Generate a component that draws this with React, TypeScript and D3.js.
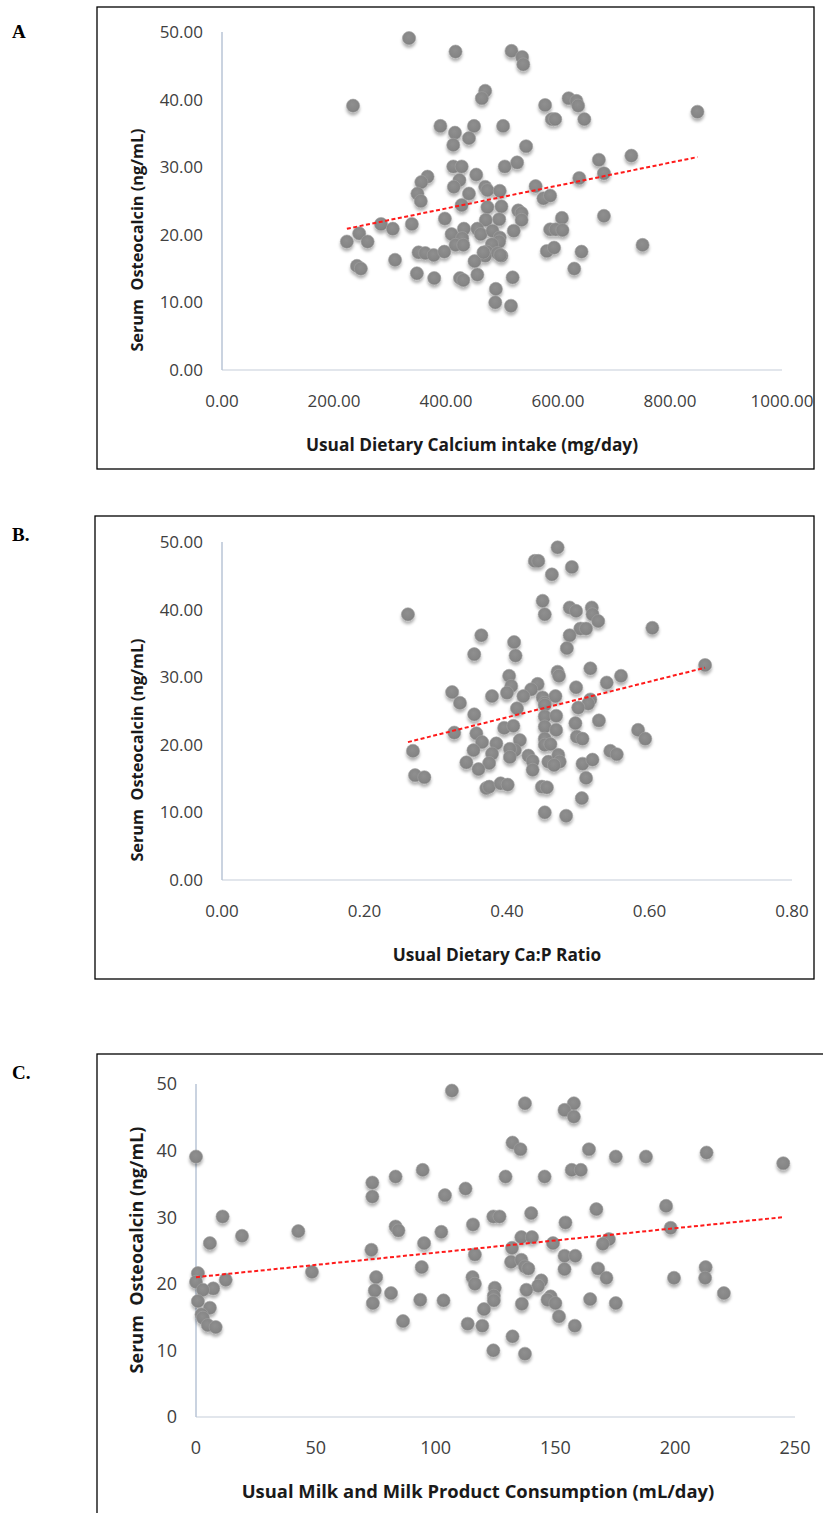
import React from 'react'
import * as d3 from 'd3'

// ---- panel A: calcium intake (mg/day) vs osteocalcin (ng/mL)
const calciumX = [334,417,517,536,538,234,470,464,390,416,450,502,441,413,543,413,428,505,527,367,356,454,424,414,470,474,496,349,441,355,428,474,499,529,535,398,577,619,633,636,589,595,647,849,673,731,638,682,560,574,586,607,682,535,471,495,284,339,305,245,223,260,410,432,456,462,483,496,521,429,417,431,495,482,473,470,492,499,351,363,378,397,451,309,241,248,348,379,425,431,456,519,489,488,516,586,596,608,580,593,642,751,629,467,497]
const calciumY = [49.1,47.1,47.2,46.3,45.2,39.1,41.3,40.2,36.1,35.1,36.1,36.1,34.3,33.3,33.1,30.1,30.1,30.1,30.7,28.6,27.8,28.9,28.1,27.1,27.1,26.6,26.5,26.1,26.1,25.0,24.4,24.1,24.2,23.6,23.2,22.4,39.2,40.2,39.8,39.1,37.1,37.1,37.1,38.2,31.1,31.7,28.4,29.1,27.2,25.4,25.8,22.5,22.8,22.2,22.2,22.3,21.6,21.6,20.9,20.2,19.0,19.0,20.1,20.9,20.9,20.1,20.6,19.6,20.6,19.5,18.5,18.5,19.0,18.6,17.5,16.9,17.3,16.9,17.4,17.3,17.0,17.5,16.1,16.3,15.4,15.0,14.3,13.6,13.6,13.3,14.1,13.7,12.0,10.0,9.5,20.8,20.8,20.7,17.6,18.1,17.5,18.5,15.0,17.4,17.0]
const calciumTrend = [[223, 20.9], [849, 31.5]]
const calciumTicks = [0, 200, 400, 600, 800, 1000]

// ---- panel B: Ca:P ratio
const ratioX = [0.439,0.444,0.463,0.450,0.453,0.261,0.364,0.410,0.354,0.412,0.403,0.406,0.400,0.443,0.434,0.423,0.379,0.323,0.334,0.450,0.453,0.414,0.471,0.491,0.488,0.497,0.519,0.520,0.528,0.503,0.511,0.488,0.484,0.604,0.678,0.471,0.473,0.517,0.560,0.540,0.497,0.468,0.517,0.514,0.268,0.271,0.284,0.354,0.326,0.357,0.365,0.353,0.385,0.396,0.409,0.418,0.411,0.404,0.379,0.375,0.343,0.360,0.404,0.430,0.436,0.436,0.371,0.375,0.391,0.401,0.453,0.453,0.453,0.453,0.453,0.458,0.449,0.456,0.453,0.500,0.529,0.469,0.496,0.469,0.498,0.506,0.461,0.472,0.474,0.466,0.506,0.520,0.511,0.545,0.554,0.584,0.594,0.505,0.483]
const ratioY = [47.2,47.2,45.2,41.3,39.3,39.3,36.2,35.2,33.4,33.2,30.2,28.7,27.7,29.0,28.2,27.2,27.2,27.8,26.2,27.0,26.2,25.4,49.2,46.3,40.3,39.8,40.3,39.3,38.3,37.2,37.2,36.2,34.3,37.3,31.8,30.8,30.2,31.3,30.2,29.2,28.5,27.2,26.7,26.1,19.1,15.5,15.2,24.5,21.8,21.7,20.4,19.2,20.2,22.5,22.8,20.7,19.2,19.4,18.7,17.3,17.4,16.4,18.2,18.4,17.6,16.3,13.6,13.8,14.3,14.1,25.9,24.2,22.7,20.9,20.0,17.5,13.8,13.7,10.0,25.5,23.6,24.3,23.2,22.2,21.2,20.9,20.1,18.5,17.5,17.0,17.2,17.8,15.1,19.1,18.6,22.2,20.9,12.1,9.5]
const ratioTrend = [[0.261, 20.4], [0.678, 31.4]]
const ratioTicks = [0, 0.2, 0.4, 0.6, 0.8]

// ---- panel C: milk and milk products (mL/day)
const milkX = [106.8,137.3,157.7,153.8,157.7,132.1,135.4,164.0,213.1,0,175.2,187.8,245.1,94.6,156.8,160.6,73.6,83.3,129.2,145.5,73.6,103.9,112.5,196.2,139.9,167.1,11.1,124.1,126.7,115.6,154.2,83.3,84.5,42.7,19.2,102.4,135.8,140.2,198.1,172.3,5.8,95.2,149.0,169.8,131.9,73.2,116.4,153.8,158.3,131.5,135.8,137.3,138.7,94.2,153.8,167.8,212.7,0.8,48.4,75.2,115.4,171.3,199.5,212.5,12.4,0,116.4,144.1,142.8,7.2,2.9,74.6,124.7,137.9,81.4,124.3,220.3,148.0,146.7,124.3,164.5,0.8,73.8,93.6,103.3,136.0,150.0,175.2,5.8,120.2,2.3,2.9,151.5,86.4,113.4,4.9,8.2,119.5,158.1,132.1,124.1,137.3]
const milkY = [49.0,47.1,47.1,46.1,45.1,41.2,40.2,40.2,39.7,39.1,39.1,39.1,38.1,37.1,37.1,37.1,35.2,36.1,36.1,36.1,33.1,33.3,34.3,31.7,30.6,31.2,30.1,30.1,30.1,28.9,29.2,28.6,28.0,27.9,27.2,27.8,27.0,27.0,28.4,26.7,26.1,26.1,26.1,26.0,25.4,25.1,24.4,24.2,24.2,23.3,23.6,22.6,22.3,22.5,22.2,22.3,22.5,21.6,21.8,21.0,21.0,20.9,20.9,20.9,20.6,20.3,20.0,20.5,19.7,19.3,19.1,19.0,19.4,19.1,18.6,18.2,18.6,18.1,17.6,17.5,17.7,17.4,17.1,17.6,17.5,17.0,17.1,17.1,16.4,16.2,15.4,14.9,15.1,14.4,14.0,13.8,13.5,13.7,13.7,12.1,10.0,9.5]
const milkTrend = [[0, 21.0], [245, 30.0]]
const milkTicks = [0, 50, 100, 150, 200, 250]

const osteoTicks = [0, 10, 20, 30, 40, 50]

const FONT = "'Open Sans', 'Noto Sans', sans-serif"

const Panel = ({ xs, ys, trend, xTicks, xDomain, xRange, yRange, fmt, xTitle, xTitleX, yTitleY, box, letter, letterY, tickSize, titleSize, yTitleSize }) => {
  const x = d3.scaleLinear().domain(xDomain).range(xRange)
  const y = d3.scaleLinear().domain([0, 50]).range(yRange)
  const line = d3.line().x(d => x(d[0])).y(d => y(d[1]))
  const pts = xs.map((v, i) => [v, ys[i]])
  return (
    <g>
      <rect x={box[0]} y={box[1]} width={box[2]} height={box[3]} fill="none" stroke="#000" strokeWidth={1.3} />
      <text x={12} y={letterY} fontFamily="'Liberation Serif', 'Times New Roman', serif" fontWeight="bold" fontSize={19}>{letter}</text>
      {/* axes */}
      <line x1={xRange[0]} x2={xRange[1]} y1={yRange[0]} y2={yRange[0]} stroke="#d9dee6" strokeWidth={1.5} />
      <line x1={xRange[0]} x2={xRange[0]} y1={yRange[0]} y2={yRange[1]} stroke="#b9c4d6" strokeWidth={1.5} />
      {osteoTicks.map(t => (
        <text key={'y' + t} x={xRange[0] - 19} y={y(t)} dy="0.35em" textAnchor="end" fontFamily={FONT} fontSize={tickSize} fill="#404040">{fmt(t)}</text>
      ))}
      {xTicks.map(t => (
        <text key={'x' + t} x={x(t)} y={yRange[0] + 31} dy="0.35em" textAnchor="middle" fontFamily={FONT} fontSize={tickSize} fill="#404040">{fmt(t)}</text>
      ))}
      <text x={xTitleX} y={yRange[0] + 75} dy="0.35em" textAnchor="middle" fontFamily={FONT} fontWeight="bold" fontSize={titleSize} fill="#1a1a1a">{xTitle}</text>
      <text transform={`translate(137,${yTitleY}) rotate(-90)`} dy="0.35em" textAnchor="middle" fontFamily={FONT} fontWeight="bold" fontSize={yTitleSize} fill="#1a1a1a" style={{ whiteSpace: 'pre' }}>{'Serum  Osteocalcin (ng/mL)'}</text>
      {/* points */}
      <g filter="url(#dotShadow)">
        {pts.map((d, i) => (
          <circle key={i} cx={x(d[0])} cy={y(d[1])} r={6.6} fill="url(#dotFill)" stroke="#a3a3a3" strokeWidth={0.6} />
        ))}
      </g>
      <path d={line(trend)} fill="none" stroke="#ff1a1a" strokeWidth={2} strokeDasharray="4 2.5" />
    </g>
  )
}

export default function App() {
  const f2 = d3.format('.2f')
  const f0 = d3.format('d')
  return (
    <div style={{ position: 'absolute', left: 0, top: 0 }}>
      <svg width={823} height={1513} style={{ display: 'block', background: '#fff' }}>
        <defs>
          <radialGradient id="dotFill" cx="45%" cy="40%" r="60%">
            <stop offset="0%" stopColor="#8f8f8f" />
            <stop offset="80%" stopColor="#858585" />
            <stop offset="100%" stopColor="#7a7a7a" />
          </radialGradient>
          <filter id="dotShadow" x="-20%" y="-20%" width="140%" height="140%">
            <feDropShadow dx="0" dy="3" stdDeviation="1.8" floodColor="#000" floodOpacity="0.3" />
          </filter>
        </defs>
        <Panel xs={calciumX} ys={calciumY} trend={calciumTrend} xTicks={calciumTicks} xDomain={[0, 1000]} xRange={[222, 782]} yRange={[370, 32]}
          fmt={f2} xTitle="Usual Dietary Calcium intake (mg/day)" xTitleX={472} yTitleY={240} box={[97, 7, 717, 462]} letter="A" letterY={38}
          tickSize={17} titleSize={17.3} yTitleSize={16.3} />
        <Panel xs={ratioX} ys={ratioY} trend={ratioTrend} xTicks={ratioTicks} xDomain={[0, 0.8]} xRange={[222, 792]} yRange={[880, 542]}
          fmt={f2} xTitle="Usual Dietary Ca:P Ratio" xTitleX={497} yTitleY={750} box={[95, 516, 719, 463]} letter="B." letterY={541}
          tickSize={17} titleSize={17.3} yTitleSize={16.3} />
        <Panel xs={milkX} ys={milkY} trend={milkTrend} xTicks={milkTicks} xDomain={[0, 250]} xRange={[196, 795]} yRange={[1417, 1084]}
          fmt={f0} xTitle="Usual Milk and Milk Product Consumption (mL/day)" xTitleX={478} yTitleY={1250} box={[97, 1054, 740, 480]} letter="C." letterY={1079}
          tickSize={18} titleSize={18.4} yTitleSize={18} />
      </svg>
    </div>
  )
}
